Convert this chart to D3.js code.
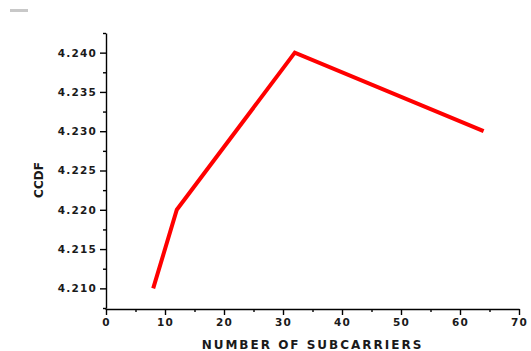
<!DOCTYPE html>
<html>
<head>
<meta charset="utf-8">
<script src="https://cdn.jsdelivr.net/npm/d3@7/dist/d3.min.js"></script>
<style>
  html, body { margin: 0; padding: 0; background: #ffffff; }
  svg { display: block; }
  .tick text { font-family: "DejaVu Sans", sans-serif; font-weight: bold; font-size: 10.5px; letter-spacing: 1.2px; fill: #1a1a1a; }
</style>
</head>
<body>
<svg id="chart" width="531" height="351"></svg>
<script>
// Number of subcarriers vs. CCDF
const subcarriers = [8, 12, 32, 64];
const ccdf = [4.210, 4.220, 4.240, 4.230];

const xMajorTicks = [0, 10, 20, 30, 40, 50, 60, 70];
const xMinorTicks = [5, 15, 25, 35, 45, 55, 65];
const yMajorTicks = [4.210, 4.215, 4.220, 4.225, 4.230, 4.235, 4.240];
const yMinorTicks = [4.2075, 4.2125, 4.2175, 4.2225, 4.2275, 4.2325, 4.2375, 4.2425];

const xTitle = "NUMBER OF SUBCARRIERS";
const yTitle = "CCDF";

const svg = d3.select("#chart");

const x = d3.scaleLinear().domain([0, 70]).range([106, 519]);
const y = d3.scaleLinear().domain([4.2075, 4.2425]).range([308, 33]);
const xAxisY = 309;

// small grey legend stub in the corner
svg.append("rect")
  .attr("x", 10).attr("y", 9).attr("width", 18).attr("height", 3)
  .attr("fill", "#c8c8c8");

// x axis
const gx = svg.append("g").attr("transform", `translate(0,${xAxisY})`);
gx.call(d3.axisBottom(x).tickValues(xMajorTicks).tickFormat(d3.format("d"))
  .tickSize(6).tickSizeOuter(0).tickPadding(4));
gx.append("g").call(d3.axisBottom(x).tickValues(xMinorTicks).tickFormat("")
  .tickSize(3).tickSizeOuter(0))
  .select(".domain").remove();

// y axis
const gy = svg.append("g").attr("transform", `translate(${x(0)},0)`);
gy.call(d3.axisLeft(y).tickValues(yMajorTicks).tickFormat(d3.format(".3f"))
  .tickSize(6).tickSizeOuter(0).tickPadding(3));
gy.append("g").call(d3.axisLeft(y).tickValues(yMinorTicks).tickFormat("")
  .tickSize(3).tickSizeOuter(0))
  .select(".domain").remove();

// extend the y axis line down to meet the x axis
gy.append("line")
  .attr("x1", 0).attr("x2", 0)
  .attr("y1", y(4.2075)).attr("y2", xAxisY + 1)
  .attr("stroke", "#000");

svg.selectAll(".domain, .tick line").attr("stroke", "#000").attr("stroke-width", 1.4);

// data line
const line = d3.line()
  .x((d, i) => x(subcarriers[i]))
  .y(d => y(d));

svg.append("path")
  .datum(ccdf)
  .attr("d", line)
  .attr("fill", "none")
  .attr("stroke", "#ff0000")
  .attr("stroke-width", 4)
  .attr("stroke-linejoin", "miter")
  .attr("stroke-linecap", "butt");

// axis titles
svg.append("text")
  .attr("x", (x(0) + x(70)) / 2)
  .attr("y", 349)
  .attr("text-anchor", "middle")
  .style("font-family", "DejaVu Sans, sans-serif")
  .style("font-weight", "bold")
  .style("font-size", "12px")
  .style("letter-spacing", "2px")
  .attr("fill", "#1a1a1a")
  .text(xTitle);

svg.append("text")
  .attr("transform", "translate(43,180) rotate(-90)")
  .attr("text-anchor", "middle")
  .style("font-family", "DejaVu Sans, sans-serif")
  .style("font-weight", "bold")
  .style("font-size", "12px")
  .attr("fill", "#1a1a1a")
  .text(yTitle);
</script>
</body>
</html>
